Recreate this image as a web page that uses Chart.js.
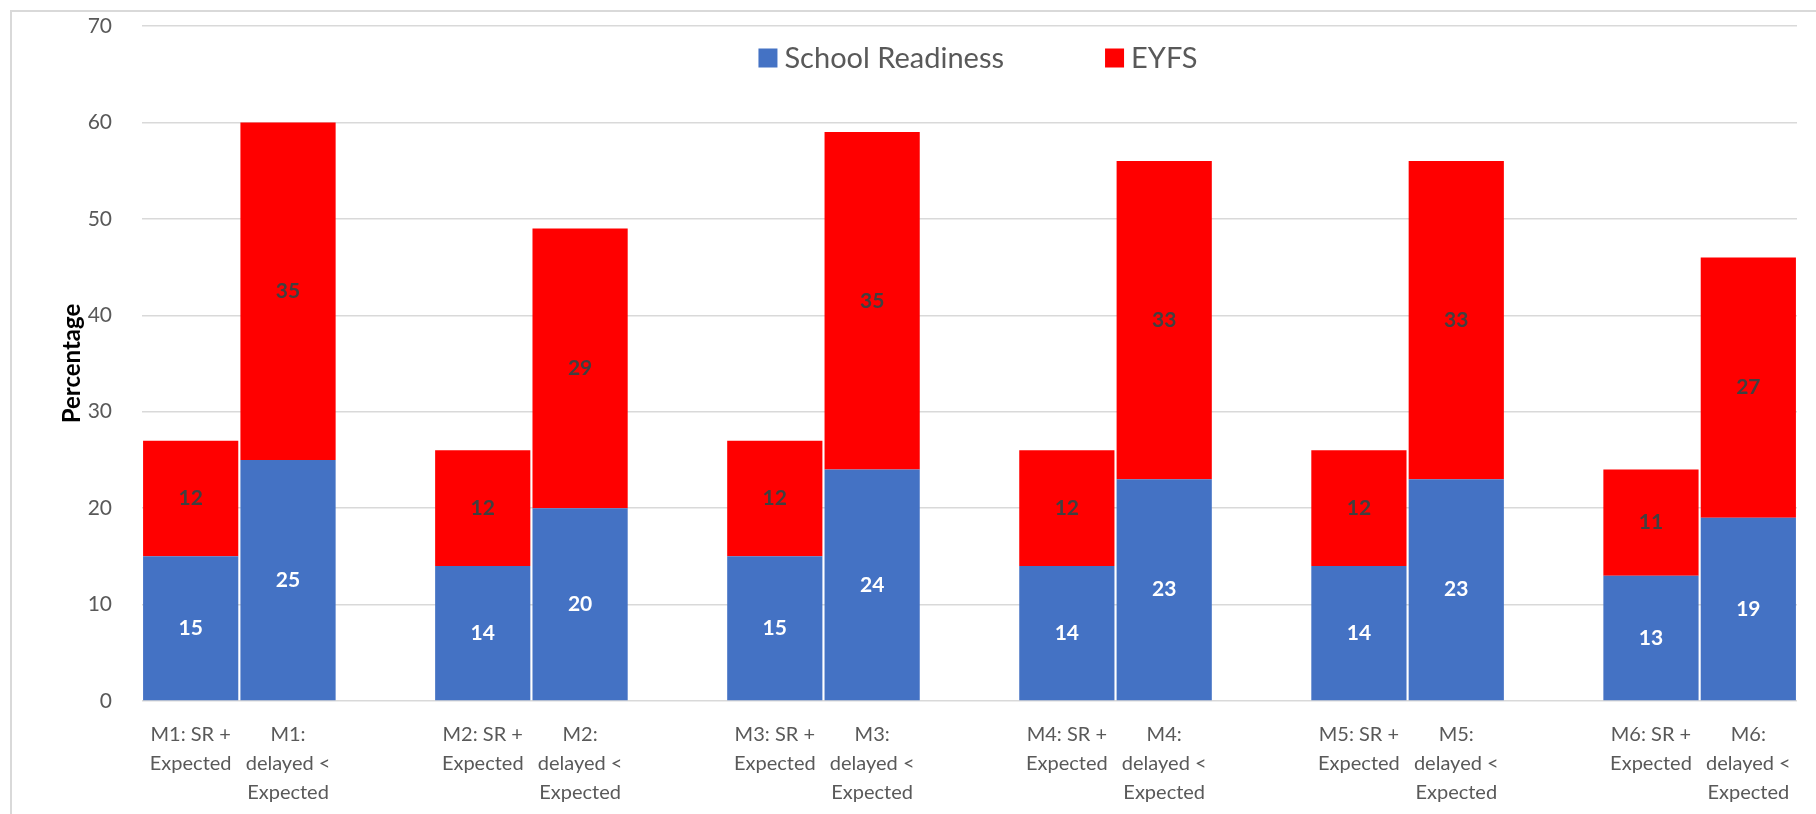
<!DOCTYPE html>
<html>
<head>
<meta charset="utf-8">
<script src="https://cdn.jsdelivr.net/npm/chart.js@4.4.1/dist/chart.umd.min.js"></script>
<style>
  html, body { margin: 0; padding: 0; background: #ffffff; }
  #wrap { position: relative; width: 1816px; height: 814px; }
</style>
</head>
<body>
<div id="wrap"><canvas id="c" width="1816" height="814"></canvas></div>
<script>
// Categories: each pair of bars followed by an empty spacer slot
const categories = [
  ["M1: SR +", "Expected"], ["M1:", "delayed <", "Expected"], "",
  ["M2: SR +", "Expected"], ["M2:", "delayed <", "Expected"], "",
  ["M3: SR +", "Expected"], ["M3:", "delayed <", "Expected"], "",
  ["M4: SR +", "Expected"], ["M4:", "delayed <", "Expected"], "",
  ["M5: SR +", "Expected"], ["M5:", "delayed <", "Expected"], "",
  ["M6: SR +", "Expected"], ["M6:", "delayed <", "Expected"]
];
const schoolReadiness = [15, 25, null, 14, 20, null, 15, 24, null, 14, 23, null, 14, 23, null, 13, 19];
const eyfs            = [12, 35, null, 12, 29, null, 12, 35, null, 12, 33, null, 12, 33, null, 11, 27];
const yTicks = [0, 10, 20, 30, 40, 50, 60, 70];
const seriesNames = ["School Readiness", "EYFS"];
const seriesColors = ["#4472C4", "#FF0000"];
const labelColors = ["#FFFFFF", "#404040"];

const FONT = "Lato, 'Open Sans', sans-serif";

const borderPlugin = {
  id: 'outerBorder',
  beforeDraw(chart) {
    const ctx = chart.ctx;
    ctx.save();
    ctx.strokeStyle = '#d9d9d9';
    ctx.lineWidth = 2;
    ctx.strokeRect(11, 11, chart.width + 20, chart.height + 20);
    ctx.restore();
  }
};

const valueLabels = {
  id: 'valueLabels',
  afterDatasetsDraw(chart) {
    const ctx = chart.ctx;
    ctx.save();
    ctx.font = "bold 21px " + FONT;
    ctx.textAlign = 'center';
    ctx.textBaseline = 'middle';
    chart.data.datasets.forEach((ds, di) => {
      const meta = chart.getDatasetMeta(di);
      meta.data.forEach((el, i) => {
        const v = ds.data[i];
        if (v === null || v === undefined) return;
        ctx.fillStyle = labelColors[di];
        ctx.fillText(String(v), el.x, (el.y + el.base) / 2);
      });
    });
    ctx.restore();
  }
};

const customLegend = {
  id: 'customLegend',
  afterDraw(chart) {
    const ctx = chart.ctx;
    ctx.save();
    ctx.font = "29px " + FONT;
    ctx.textBaseline = 'middle';
    const box = 19, gapBoxText = 7, gapItems = 101;
    const items = chart.data.datasets.map(ds => ({ text: ds.label, color: ds.backgroundColor }));
    let total = 0;
    items.forEach((it, k) => {
      it.w = ctx.measureText(it.text).width;
      total += box + gapBoxText + it.w + (k < items.length - 1 ? gapItems : 0);
    });
    let x = 978 - total / 2;
    const yc = 58;
    items.forEach(it => {
      ctx.fillStyle = it.color;
      ctx.fillRect(x, yc - box / 2, box, box);
      x += box + gapBoxText;
      ctx.fillStyle = '#595959';
      ctx.fillText(it.text, x, yc + 1);
      x += it.w + gapItems;
    });
    ctx.restore();
  }
};

new Chart(document.getElementById('c'), {
  type: 'bar',
  data: {
    labels: categories,
    datasets: [
      { label: seriesNames[0], data: schoolReadiness, backgroundColor: seriesColors[0], borderWidth: 0 },
      { label: seriesNames[1], data: eyfs, backgroundColor: seriesColors[1], borderWidth: 0 }
    ]
  },
  options: {
    responsive: false,
    animation: false,
    devicePixelRatio: 1,
    layout: { padding: { left: 0, right: 19, top: 26, bottom: 0 } },
    datasets: { bar: { categoryPercentage: 1.0, barPercentage: 0.978 } },
    plugins: {
      legend: { display: false },
      tooltip: { enabled: false },
      title: { display: false }
    },
    scales: {
      x: {
        stacked: true,
        offset: true,
        grid: { display: false },
        border: { display: false },
        ticks: {
          autoSkip: false,
          maxRotation: 0,
          minRotation: 0,
          padding: 11,
          color: '#595959',
          font: { family: FONT, size: 20, lineHeight: 1.46 }
        },
        afterFit(scale) { scale.height = 113; scale.paddingLeft = 0; scale.paddingRight = 0; }
      },
      y: {
        stacked: true,
        min: 0,
        max: 70,
        afterBuildTicks(scale) { scale.ticks = yTicks.map(v => ({ value: v })); },
        grid: { color: '#d9d9d9', lineWidth: 1.5, drawTicks: false },
        border: { display: false },
        ticks: {
          padding: 30,
          color: '#595959',
          font: { family: FONT, size: 21 }
        },
        title: {
          display: true,
          text: 'Percentage',
          color: '#000000',
          font: { family: FONT, size: 24, weight: 'bold' },
          padding: { top: 58, bottom: 0 }
        },
        afterFit(scale) { scale.width = 142; scale.paddingTop = 0; scale.paddingBottom = 0; }
      }
    }
  },
  plugins: [borderPlugin, valueLabels, customLegend]
});
</script>
</body>
</html>
